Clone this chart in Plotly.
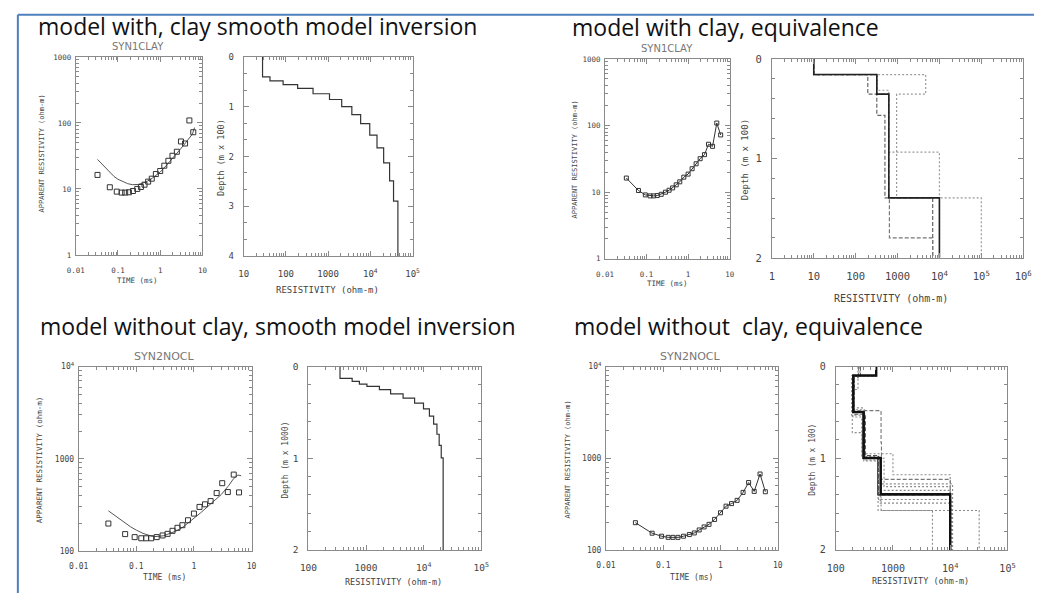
import numpy as np
import plotly.graph_objects as go

W, H = 1043, 599

# ---------------- data ----------------
time_ms = [0.0327, 0.064, 0.0936, 0.122, 0.148, 0.181, 0.226, 0.286, 0.349, 0.425, 0.518,
           0.631, 0.789, 1.0, 1.25, 1.56, 1.95, 2.48, 3.1, 3.88, 4.91, 6.07]
rho_syn1 = [16.3, 10.6, 9.1, 8.8, 8.8, 8.9, 9.3, 10.0, 10.7, 11.6, 12.9,
            14.3, 16.8, 18.7, 22.5, 26.7, 31.8, 36.6, 52.4, 48.8, 109, 72.3]
rho_syn2 = [198, 152, 141, 137, 137, 137, 141, 147, 153, 165, 178,
            190, 215, 254, 300, 320, 347, 424, 543, 435, 673, 431]

fit_time1 = [0.0327, 0.045, 0.06, 0.08, 0.1, 0.13, 0.17, 0.22, 0.3, 0.4, 0.5, 0.65,
             0.8, 1.0, 1.3, 1.7, 2.0, 2.5, 3.0, 4.0, 5.0, 5.8, 6.5]
fit_rho1 = [28, 22.5, 18.5, 15.5, 14, 12.8, 12, 11.6, 11.7, 12.3, 13.1, 14.6,
            16.2, 18, 21.5, 26, 29, 34, 40, 50, 60, 68, 85]

fit_time2 = [0.0327, 0.045, 0.06, 0.08, 0.1, 0.13, 0.18, 0.22, 0.3, 0.4, 0.5, 0.65,
             0.8, 1.0, 1.3, 1.7, 2.0, 2.5, 3.0, 4.0, 4.9, 5.8, 6.6]
fit_rho2 = [272, 235, 205, 182, 168, 155, 145, 143, 146, 155, 165, 182,
            200, 226, 258, 300, 330, 370, 410, 510, 610, 665, 655]

# smooth inversion models (resistivity per layer, layer bottoms)
smooth1_res = [28, 42, 86, 190, 440, 1080, 2100, 3650, 5900, 9700, 14400, 20700, 28600, 35500, 45000]
smooth1_bnd = [0.40, 0.48, 0.555, 0.63, 0.74, 0.855, 1.0, 1.16, 1.34, 1.57, 1.83, 2.13, 2.49, 2.90]
smooth2_res = [353, 574, 766, 1035, 1706, 2667, 4394, 6963, 9931, 12590, 14900, 17000, 18600, 20200, 21800]
smooth2_bnd = [0.129, 0.161, 0.19, 0.215, 0.251, 0.297, 0.344, 0.398, 0.462, 0.541, 0.627, 0.738, 0.86, 0.996]

DASH = "4px,2px"
DOT = "2px,2px"

# equivalence models, with clay
eq1_best_res = [10, 320, 620, 10000]
eq1_best_bnd = [0.157, 0.354, 1.397]
eq1_alt = [
    ([10, 4700, 950, 100000], [0.157, 0.354, 1.397], DOT, "#9a9a9a"),
    ([10, 195, 320, 500, 6900], [0.157, 0.354, 0.567, 1.397], DASH, "#666666"),
    ([10, 330, 620, 10000], [0.157, 0.315, 0.938], DOT, "#9a9a9a"),
    ([10, 320, 620, 640, 6900], [0.157, 0.354, 1.397, 1.80], DASH, "#777777"),
]

# equivalence models, without clay
eq2_best_res = [510, 203, 309, 612, 10000]
eq2_best_bnd = [0.097, 0.496, 0.998, 1.393]
eq2_alt = [
    ([245, 198, 300, 600, 10000], [0.25, 0.50, 1.00, 1.35], DOT, "#8a8a8a"),
    ([265, 195, 290, 1000, 10000], [0.12, 0.72, 0.95, 1.18], DOT, "#8a8a8a"),
    ([500, 210, 300, 550, 4900], [0.10, 0.50, 1.00, 1.57], DOT, "#8a8a8a"),
    ([510, 205, 320, 620, 32000], [0.10, 0.47, 1.02, 1.57], DOT, "#8a8a8a"),
    ([250, 200, 620, 630, 10000], [0.10, 0.48, 0.83, 1.23], DASH, "#777777"),
    ([510, 190, 300, 600, 11000], [0.10, 0.53, 0.98, 1.28], DOT, "#8a8a8a"),
    ([510, 200, 285, 560, 10500], [0.10, 0.55, 1.00, 1.45], DOT, "#8a8a8a"),
    ([510, 212, 310, 600, 9800], [0.10, 0.50, 1.03, 1.49], DOT, "#8a8a8a"),
    ([500, 200, 300, 700, 10000], [0.10, 0.45, 1.00, 1.31], DOT, "#8a8a8a"),
    ([270, 210, 330, 560, 10000], [0.10, 0.52, 0.97, 1.40], DASH, "#555555"),
    ([510, 200, 300, 540, 10000], [0.10, 0.50, 1.00, 1.40], "solid", "#444444"),
]

titles = ["model with, clay smooth model inversion", "model with clay, equivalence",
          "model without clay, smooth model inversion", "model without\u00a0 clay, equivalence"]
site_names = ["SYN1CLAY", "SYN1CLAY", "SYN2NOCL", "SYN2NOCL"]

# ---------------- styling helpers ----------------
AX = "#8a8a8a"
TXT = "#444444"
MONO = "DejaVu Sans Mono"

panels = {
    1: ((67, 196), (52, 254)),
    2: ((238, 410), (52, 255)),
    3: ((606, 733), (54, 258)),
    4: ((776, 1032), (54, 257)),
    5: ((70, 246), (368, 556)),
    6: ((304, 480), (368, 555)),
    7: ((607, 782), (368, 555)),
    8: ((841, 1016), (368, 555)),
}


def xdom(p):
    a, b = panels[p][0]
    return [a / W, b / W]


def ydom(p):
    t, b = panels[p][1]
    return [1 - b / H, 1 - t / H]


def common(fs, standoff):
    return dict(showline=True, linecolor=AX, linewidth=1, mirror="ticks",
                ticks="inside", ticklen=5, tickwidth=1, tickcolor=AX,
                showgrid=False, zeroline=False,
                tickfont=dict(family=MONO, size=fs, color=TXT),
                ticklabelstandoff=standoff)


def log_axis(dom, lo, hi, labels, anchor, fs, standoff):
    tv = [10.0 ** k for k in range(lo, hi + 1)]
    mv = [m * 10.0 ** k for k in range(lo, hi) for m in range(2, 10)]
    d = dict(type="log", domain=dom, range=[lo, hi], anchor=anchor,
             tickmode="array", tickvals=tv, ticktext=labels,
             minor=dict(tickmode="array", tickvals=mv, ticks="inside", ticklen=3,
                        tickcolor=AX, tickwidth=1, showgrid=False))
    d.update(common(fs, standoff))
    return d


def depth_axis(dom, dmax, step, anchor, fs, standoff):
    tv = list(range(0, int(dmax) + 1))
    mv = [float(v) for v in np.round(np.arange(0, dmax + 1e-9, step), 4)]
    d = dict(type="linear", domain=dom, range=[dmax, 0], anchor=anchor,
             tickmode="array", tickvals=tv, ticktext=[str(v) for v in tv],
             minor=dict(tickmode="array", tickvals=mv, ticks="inside", ticklen=3,
                        tickcolor=AX, tickwidth=1, showgrid=False))
    d.update(common(fs, standoff))
    return d


def step_trace(res, bnd, dmax, ax, dash="solid", color="#222", width=1.0):
    xs = list(res) + [res[-1]]
    ys = [0] + list(bnd) + [dmax]
    return go.Scatter(x=xs, y=ys, mode="lines", line_shape="vh",
                      line=dict(color=color, width=width, dash=dash),
                      xaxis="x" + ax, yaxis="y" + ax, hoverinfo="skip")


fig = go.Figure()

# Panel 1: smooth fit, clay
fig.add_trace(go.Scatter(x=fit_time1, y=fit_rho1, mode="lines", line=dict(color="#555", width=1),
                         xaxis="x", yaxis="y"))
fig.add_trace(go.Scatter(x=time_ms, y=rho_syn1, mode="markers",
                         marker=dict(symbol="square-open", size=5, color="#333", line=dict(width=1)),
                         xaxis="x", yaxis="y"))
# Panel 2: smooth model, clay
fig.add_trace(step_trace(smooth1_res, smooth1_bnd, 4, "2", color="#333", width=1.2))
# Panel 3: data, clay
fig.add_trace(go.Scatter(x=time_ms, y=rho_syn1, mode="lines+markers", line=dict(color="#333", width=1),
                         marker=dict(symbol="square-open", size=4, color="#333", line=dict(width=1)),
                         xaxis="x3", yaxis="y3"))
# Panel 4: equivalence, clay
for res, bnd, dash, col in eq1_alt:
    fig.add_trace(step_trace(res, bnd, 2, "4", dash=dash, color=col, width=1.2))
fig.add_trace(step_trace(eq1_best_res, eq1_best_bnd, 2, "4", color="#222", width=1.6))
# Panel 5: smooth fit, no clay
fig.add_trace(go.Scatter(x=fit_time2, y=fit_rho2, mode="lines", line=dict(color="#555", width=1),
                         xaxis="x5", yaxis="y5"))
fig.add_trace(go.Scatter(x=time_ms, y=rho_syn2, mode="markers",
                         marker=dict(symbol="square-open", size=5, color="#333", line=dict(width=1)),
                         xaxis="x5", yaxis="y5"))
# Panel 6: smooth model, no clay
fig.add_trace(step_trace(smooth2_res, smooth2_bnd, 2, "6", color="#333", width=1.2))
# Panel 7: data, no clay
fig.add_trace(go.Scatter(x=time_ms, y=rho_syn2, mode="lines+markers", line=dict(color="#333", width=1),
                         marker=dict(symbol="square-open", size=4, color="#333", line=dict(width=1)),
                         xaxis="x7", yaxis="y7"))
# Panel 8: equivalence, no clay
for res, bnd, dash, col in eq2_alt:
    fig.add_trace(step_trace(res, bnd, 2, "8", dash=dash, color=col, width=1.1))
fig.add_trace(step_trace(eq2_best_res, eq2_best_bnd, 2, "8", color="#111", width=2.4))

time_labels = ["0.01", "0.1", "1", "10"]
sup = lambda k: "10<sup>%d</sup>" % k

layout = dict(
    width=W, height=H, autosize=False, margin=dict(l=0, r=0, t=0, b=0),
    paper_bgcolor="white", plot_bgcolor="white", showlegend=False,
    xaxis=log_axis(xdom(1), -2, 1, time_labels, "y", 7.5, 8),
    yaxis=log_axis(ydom(1), 0, 3, ["1", "10", "100", "1000"], "x", 7.5, 2),
    xaxis2=log_axis(xdom(2), 1, 5, ["10", "100", "1000", sup(4), sup(5)], "y2", 9, 9),
    yaxis2=depth_axis(ydom(2), 4, 1 / 3, "x2", 9, 7),
    xaxis3=log_axis(xdom(3), -2, 1, time_labels, "y3", 7.5, 8),
    yaxis3=log_axis(ydom(3), 0, 3, ["1", "10", "100", "1000"], "x3", 7.5, 2),
    xaxis4=log_axis(xdom(4), 0, 6, ["1", "10", "100", "1000", sup(4), sup(5), sup(6)], "y4", 10.5, 9),
    yaxis4=depth_axis(ydom(4), 2, 0.2, "x4", 10.5, 7),
    xaxis5=log_axis(xdom(5), -2, 1, time_labels, "y5", 8, 8),
    yaxis5=log_axis(ydom(5), 2, 4, ["100", "1000", sup(4)], "x5", 8, 2),
    xaxis6=log_axis(xdom(6), 2, 5, ["100", "1000", sup(4), sup(5)], "y6", 9.5, 9),
    yaxis6=depth_axis(ydom(6), 2, 0.2, "x6", 9.5, 7),
    xaxis7=log_axis(xdom(7), -2, 1, time_labels, "y7", 8, 8),
    yaxis7=log_axis(ydom(7), 2, 4, ["100", "1000", sup(4)], "x7", 8, 2),
    xaxis8=log_axis(xdom(8), 2, 5, ["100", "1000", sup(4), sup(5)], "y8", 10, 9),
    yaxis8=depth_axis(ydom(8), 2, 0.2, "x8", 10, 7),
)
fig.update_layout(**layout)


def ann(text, px, py, size, family=MONO, color=TXT, angle=0):
    fig.add_annotation(text=text, x=px / W, y=1 - py / H, xref="paper", yref="paper",
                       showarrow=False, xanchor="center", yanchor="middle", textangle=angle,
                       font=dict(family=family, size=size, color=color))


TITLE_FONT = "Open Sans"
title_pos = [(252, 20), (729, 21), (273, 327), (752, 327)]
for t, (px, py) in zip(titles, title_pos):
    ann(t, px, py, 23, family=TITLE_FONT, color="#111")

site_pos = [(130, 41, 10), (669, 43, 10), (157, 358, 11), (693, 358, 11)]
for s, (px, py, fs) in zip(site_names, site_pos):
    ann(s, px, py, fs, family="DejaVu Sans", color="#777")

ylab_tem = "APPARENT RESISTIVITY (ohm-m)"
ann(ylab_tem, 33, 150, 7, angle=-90)
ann("TIME (ms)", 130, 280, 7.5)
ann("Depth (m x 100)", 215, 155, 8.5, angle=-90)
ann("RESISTIVITY (ohm-m)", 323, 290, 9)
ann(ylab_tem, 575, 157, 7, angle=-90)
ann("TIME (ms)", 670, 283, 7.5)
ann("Depth (m x 100)", 748, 157, 9, angle=-90)
ann("RESISTIVITY (ohm-m)", 897, 298, 10)
ann(ylab_tem, 30, 463, 7.5, angle=-90)
ann("TIME (ms)", 157, 583, 8)
ann("Depth (m x 1000)", 281, 463, 8, angle=-90)
ann("RESISTIVITY (ohm-m)", 391, 588, 8.5)
ann(ylab_tem, 568, 463, 7, angle=-90)
ann("TIME (ms)", 694, 583, 8)
ann("Depth (m x 100)", 818, 463, 8, angle=-90)
ann("RESISTIVITY (ohm-m)", 927, 587, 8.5)

# blue slide border
BLUE = "#4f81bd"
fig.add_shape(type="line", xref="paper", yref="paper", x0=8 / W, x1=1, y0=1 - 9 / H, y1=1 - 9 / H,
              line=dict(color=BLUE, width=2))
fig.add_shape(type="line", xref="paper", yref="paper", x0=8 / W, x1=8 / W, y0=0, y1=1 - 9 / H,
              line=dict(color=BLUE, width=2))

fig.write_html("out.html")
